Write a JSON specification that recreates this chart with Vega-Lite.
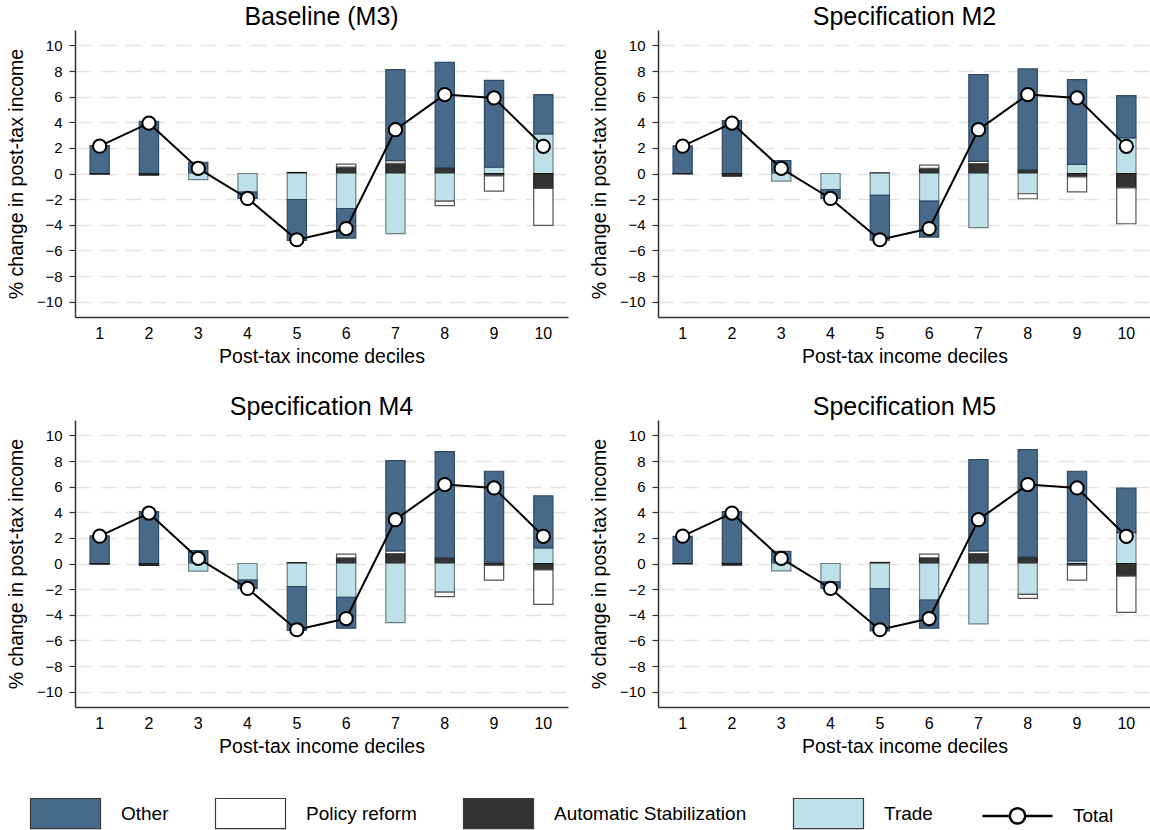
{
  "$schema": "https://vega.github.io/schema/vega-lite/v6.json",
  "background": "white",
  "padding": {"left": 6, "top": 5, "right": 5, "bottom": 5},
  "config": {
    "font": "Liberation Sans",
    "view": {"stroke": null},
    "legend": {"layout": {"bottom": {"anchor": "middle"}}}
  },
  "data": {"values": [
    {"panel":"Baseline (M3)","decile":1,"component":"Other","value":2.18},
    {"panel":"Baseline (M3)","decile":1,"component":"Automatic Stabilization","value":-0.05},
    {"panel":"Baseline (M3)","decile":2,"component":"Other","value":4.08},
    {"panel":"Baseline (M3)","decile":2,"component":"Automatic Stabilization","value":-0.12},
    {"panel":"Baseline (M3)","decile":3,"component":"Other","value":0.88},
    {"panel":"Baseline (M3)","decile":3,"component":"Trade","value":-0.48},
    {"panel":"Baseline (M3)","decile":4,"component":"Trade","value":-1.45},
    {"panel":"Baseline (M3)","decile":4,"component":"Other","value":-0.5},
    {"panel":"Baseline (M3)","decile":5,"component":"Automatic Stabilization","value":0.08},
    {"panel":"Baseline (M3)","decile":5,"component":"Trade","value":-2.03},
    {"panel":"Baseline (M3)","decile":5,"component":"Other","value":-3.2},
    {"panel":"Baseline (M3)","decile":6,"component":"Automatic Stabilization","value":0.5},
    {"panel":"Baseline (M3)","decile":6,"component":"Policy reform","value":0.23},
    {"panel":"Baseline (M3)","decile":6,"component":"Trade","value":-2.73},
    {"panel":"Baseline (M3)","decile":6,"component":"Other","value":-2.31},
    {"panel":"Baseline (M3)","decile":7,"component":"Automatic Stabilization","value":0.8},
    {"panel":"Baseline (M3)","decile":7,"component":"Policy reform","value":0.2},
    {"panel":"Baseline (M3)","decile":7,"component":"Other","value":7.1},
    {"panel":"Baseline (M3)","decile":7,"component":"Trade","value":-4.7},
    {"panel":"Baseline (M3)","decile":8,"component":"Automatic Stabilization","value":0.45},
    {"panel":"Baseline (M3)","decile":8,"component":"Other","value":8.23},
    {"panel":"Baseline (M3)","decile":8,"component":"Trade","value":-2.16},
    {"panel":"Baseline (M3)","decile":8,"component":"Policy reform","value":-0.34},
    {"panel":"Baseline (M3)","decile":9,"component":"Trade","value":0.5},
    {"panel":"Baseline (M3)","decile":9,"component":"Other","value":6.77},
    {"panel":"Baseline (M3)","decile":9,"component":"Automatic Stabilization","value":-0.18},
    {"panel":"Baseline (M3)","decile":9,"component":"Policy reform","value":-1.2},
    {"panel":"Baseline (M3)","decile":10,"component":"Trade","value":3.09},
    {"panel":"Baseline (M3)","decile":10,"component":"Other","value":3.07},
    {"panel":"Baseline (M3)","decile":10,"component":"Automatic Stabilization","value":-1.17},
    {"panel":"Baseline (M3)","decile":10,"component":"Policy reform","value":-2.88},

    {"panel":"Specification M2","decile":1,"component":"Other","value":2.15},
    {"panel":"Specification M2","decile":1,"component":"Automatic Stabilization","value":-0.04},
    {"panel":"Specification M2","decile":2,"component":"Other","value":4.12},
    {"panel":"Specification M2","decile":2,"component":"Automatic Stabilization","value":-0.2},
    {"panel":"Specification M2","decile":3,"component":"Other","value":1.0},
    {"panel":"Specification M2","decile":3,"component":"Trade","value":-0.6},
    {"panel":"Specification M2","decile":4,"component":"Trade","value":-1.25},
    {"panel":"Specification M2","decile":4,"component":"Other","value":-0.7},
    {"panel":"Specification M2","decile":5,"component":"Automatic Stabilization","value":0.05},
    {"panel":"Specification M2","decile":5,"component":"Trade","value":-1.71},
    {"panel":"Specification M2","decile":5,"component":"Other","value":-3.5},
    {"panel":"Specification M2","decile":6,"component":"Automatic Stabilization","value":0.4},
    {"panel":"Specification M2","decile":6,"component":"Policy reform","value":0.25},
    {"panel":"Specification M2","decile":6,"component":"Trade","value":-2.16},
    {"panel":"Specification M2","decile":6,"component":"Other","value":-2.8},
    {"panel":"Specification M2","decile":7,"component":"Automatic Stabilization","value":0.78},
    {"panel":"Specification M2","decile":7,"component":"Policy reform","value":0.16},
    {"panel":"Specification M2","decile":7,"component":"Other","value":6.77},
    {"panel":"Specification M2","decile":7,"component":"Trade","value":-4.23},
    {"panel":"Specification M2","decile":8,"component":"Automatic Stabilization","value":0.3},
    {"panel":"Specification M2","decile":8,"component":"Other","value":7.86},
    {"panel":"Specification M2","decile":8,"component":"Trade","value":-1.58},
    {"panel":"Specification M2","decile":8,"component":"Policy reform","value":-0.39},
    {"panel":"Specification M2","decile":9,"component":"Trade","value":0.72},
    {"panel":"Specification M2","decile":9,"component":"Other","value":6.6},
    {"panel":"Specification M2","decile":9,"component":"Automatic Stabilization","value":-0.26},
    {"panel":"Specification M2","decile":9,"component":"Policy reform","value":-1.17},
    {"panel":"Specification M2","decile":10,"component":"Trade","value":2.78},
    {"panel":"Specification M2","decile":10,"component":"Other","value":3.3},
    {"panel":"Specification M2","decile":10,"component":"Automatic Stabilization","value":-1.12},
    {"panel":"Specification M2","decile":10,"component":"Policy reform","value":-2.8},

    {"panel":"Specification M4","decile":1,"component":"Other","value":2.15},
    {"panel":"Specification M4","decile":1,"component":"Automatic Stabilization","value":-0.05},
    {"panel":"Specification M4","decile":2,"component":"Other","value":4.05},
    {"panel":"Specification M4","decile":2,"component":"Automatic Stabilization","value":-0.15},
    {"panel":"Specification M4","decile":3,"component":"Other","value":1.0},
    {"panel":"Specification M4","decile":3,"component":"Trade","value":-0.6},
    {"panel":"Specification M4","decile":4,"component":"Trade","value":-1.3},
    {"panel":"Specification M4","decile":4,"component":"Other","value":-0.64},
    {"panel":"Specification M4","decile":5,"component":"Automatic Stabilization","value":0.07},
    {"panel":"Specification M4","decile":5,"component":"Trade","value":-1.81},
    {"panel":"Specification M4","decile":5,"component":"Other","value":-3.42},
    {"panel":"Specification M4","decile":6,"component":"Automatic Stabilization","value":0.44},
    {"panel":"Specification M4","decile":6,"component":"Policy reform","value":0.29},
    {"panel":"Specification M4","decile":6,"component":"Trade","value":-2.64},
    {"panel":"Specification M4","decile":6,"component":"Other","value":-2.41},
    {"panel":"Specification M4","decile":7,"component":"Automatic Stabilization","value":0.78},
    {"panel":"Specification M4","decile":7,"component":"Policy reform","value":0.2},
    {"panel":"Specification M4","decile":7,"component":"Other","value":7.05},
    {"panel":"Specification M4","decile":7,"component":"Trade","value":-4.61},
    {"panel":"Specification M4","decile":8,"component":"Automatic Stabilization","value":0.47},
    {"panel":"Specification M4","decile":8,"component":"Other","value":8.26},
    {"panel":"Specification M4","decile":8,"component":"Trade","value":-2.23},
    {"panel":"Specification M4","decile":8,"component":"Policy reform","value":-0.36},
    {"panel":"Specification M4","decile":9,"component":"Trade","value":0.1},
    {"panel":"Specification M4","decile":9,"component":"Other","value":7.1},
    {"panel":"Specification M4","decile":9,"component":"Automatic Stabilization","value":-0.15},
    {"panel":"Specification M4","decile":9,"component":"Policy reform","value":-1.15},
    {"panel":"Specification M4","decile":10,"component":"Trade","value":1.22},
    {"panel":"Specification M4","decile":10,"component":"Other","value":4.06},
    {"panel":"Specification M4","decile":10,"component":"Automatic Stabilization","value":-0.5},
    {"panel":"Specification M4","decile":10,"component":"Policy reform","value":-2.69},

    {"panel":"Specification M5","decile":1,"component":"Other","value":2.12},
    {"panel":"Specification M5","decile":1,"component":"Automatic Stabilization","value":-0.04},
    {"panel":"Specification M5","decile":2,"component":"Other","value":4.05},
    {"panel":"Specification M5","decile":2,"component":"Automatic Stabilization","value":-0.12},
    {"panel":"Specification M5","decile":3,"component":"Other","value":0.95},
    {"panel":"Specification M5","decile":3,"component":"Trade","value":-0.57},
    {"panel":"Specification M5","decile":4,"component":"Trade","value":-1.43},
    {"panel":"Specification M5","decile":4,"component":"Other","value":-0.5},
    {"panel":"Specification M5","decile":5,"component":"Automatic Stabilization","value":0.08},
    {"panel":"Specification M5","decile":5,"component":"Trade","value":-1.95},
    {"panel":"Specification M5","decile":5,"component":"Other","value":-3.31},
    {"panel":"Specification M5","decile":6,"component":"Automatic Stabilization","value":0.45},
    {"panel":"Specification M5","decile":6,"component":"Policy reform","value":0.28},
    {"panel":"Specification M5","decile":6,"component":"Trade","value":-2.85},
    {"panel":"Specification M5","decile":6,"component":"Other","value":-2.2},
    {"panel":"Specification M5","decile":7,"component":"Automatic Stabilization","value":0.78},
    {"panel":"Specification M5","decile":7,"component":"Policy reform","value":0.2},
    {"panel":"Specification M5","decile":7,"component":"Other","value":7.13},
    {"panel":"Specification M5","decile":7,"component":"Trade","value":-4.71},
    {"panel":"Specification M5","decile":8,"component":"Automatic Stabilization","value":0.52},
    {"panel":"Specification M5","decile":8,"component":"Other","value":8.37},
    {"panel":"Specification M5","decile":8,"component":"Trade","value":-2.41},
    {"panel":"Specification M5","decile":8,"component":"Policy reform","value":-0.31},
    {"panel":"Specification M5","decile":9,"component":"Trade","value":0.2},
    {"panel":"Specification M5","decile":9,"component":"Other","value":7.0},
    {"panel":"Specification M5","decile":9,"component":"Automatic Stabilization","value":-0.13},
    {"panel":"Specification M5","decile":9,"component":"Policy reform","value":-1.17},
    {"panel":"Specification M5","decile":10,"component":"Trade","value":2.41},
    {"panel":"Specification M5","decile":10,"component":"Other","value":3.47},
    {"panel":"Specification M5","decile":10,"component":"Automatic Stabilization","value":-0.98},
    {"panel":"Specification M5","decile":10,"component":"Policy reform","value":-2.83},

    {"panel":"Baseline (M3)","decile":1,"component":"Total","value":2.13},
    {"panel":"Baseline (M3)","decile":2,"component":"Total","value":3.93},
    {"panel":"Baseline (M3)","decile":3,"component":"Total","value":0.4},
    {"panel":"Baseline (M3)","decile":4,"component":"Total","value":-1.95},
    {"panel":"Baseline (M3)","decile":5,"component":"Total","value":-5.17},
    {"panel":"Baseline (M3)","decile":6,"component":"Total","value":-4.3},
    {"panel":"Baseline (M3)","decile":7,"component":"Total","value":3.42},
    {"panel":"Baseline (M3)","decile":8,"component":"Total","value":6.16},
    {"panel":"Baseline (M3)","decile":9,"component":"Total","value":5.9},
    {"panel":"Baseline (M3)","decile":10,"component":"Total","value":2.12},
    {"panel":"Specification M2","decile":1,"component":"Total","value":2.13},
    {"panel":"Specification M2","decile":2,"component":"Total","value":3.93},
    {"panel":"Specification M2","decile":3,"component":"Total","value":0.4},
    {"panel":"Specification M2","decile":4,"component":"Total","value":-1.95},
    {"panel":"Specification M2","decile":5,"component":"Total","value":-5.17},
    {"panel":"Specification M2","decile":6,"component":"Total","value":-4.3},
    {"panel":"Specification M2","decile":7,"component":"Total","value":3.42},
    {"panel":"Specification M2","decile":8,"component":"Total","value":6.16},
    {"panel":"Specification M2","decile":9,"component":"Total","value":5.9},
    {"panel":"Specification M2","decile":10,"component":"Total","value":2.12},
    {"panel":"Specification M4","decile":1,"component":"Total","value":2.13},
    {"panel":"Specification M4","decile":2,"component":"Total","value":3.93},
    {"panel":"Specification M4","decile":3,"component":"Total","value":0.4},
    {"panel":"Specification M4","decile":4,"component":"Total","value":-1.95},
    {"panel":"Specification M4","decile":5,"component":"Total","value":-5.17},
    {"panel":"Specification M4","decile":6,"component":"Total","value":-4.3},
    {"panel":"Specification M4","decile":7,"component":"Total","value":3.42},
    {"panel":"Specification M4","decile":8,"component":"Total","value":6.16},
    {"panel":"Specification M4","decile":9,"component":"Total","value":5.9},
    {"panel":"Specification M4","decile":10,"component":"Total","value":2.12},
    {"panel":"Specification M5","decile":1,"component":"Total","value":2.13},
    {"panel":"Specification M5","decile":2,"component":"Total","value":3.93},
    {"panel":"Specification M5","decile":3,"component":"Total","value":0.4},
    {"panel":"Specification M5","decile":4,"component":"Total","value":-1.95},
    {"panel":"Specification M5","decile":5,"component":"Total","value":-5.17},
    {"panel":"Specification M5","decile":6,"component":"Total","value":-4.3},
    {"panel":"Specification M5","decile":7,"component":"Total","value":3.42},
    {"panel":"Specification M5","decile":8,"component":"Total","value":6.16},
    {"panel":"Specification M5","decile":9,"component":"Total","value":5.9},
    {"panel":"Specification M5","decile":10,"component":"Total","value":2.12}
  ]},
  "facet": {
    "field": "panel", "type": "nominal",
    "sort": ["Baseline (M3)", "Specification M2", "Specification M4", "Specification M5"],
    "header": {"title": null, "labelFontSize": 25, "labelColor": "black", "labelPadding": 0, "labelFont": "Liberation Sans"}
  },
  "columns": 2,
  "spacing": {"row": 29, "column": 21},
  "resolve": {"axis": {"x": "independent", "y": "independent"}},
  "spec": {
    "width": 493,
    "height": 287,
    "encoding": {
      "x": {
        "field": "decile", "type": "ordinal",
        "scale": {"paddingInner": 0.61, "paddingOuter": 0.305},
        "axis": {"title": "Post-tax income deciles", "titleFontSize": 19.5, "titleFontWeight": "normal", "titleColor": "black", "titlePadding": 6,
                 "labelAngle": 0, "labelFontSize": 16, "labelColor": "black", "labelPadding": 8,
                 "domainColor": "#333333", "domainWidth": 1.5, "ticks": false, "grid": false}
      },
      "y": {
        "field": "value", "type": "quantitative",
        "scale": {"domain": [-11.2, 11.2], "nice": false, "zero": false},
        "axis": {"title": "% change in post-tax income", "titleFontSize": 19.5, "titleFontWeight": "normal", "titleColor": "black", "titlePadding": 10,
                 "values": [-10, -8, -6, -4, -2, 0, 2, 4, 6, 8, 10], "labelFontSize": 15, "labelColor": "black", "labelPadding": 7,
                 "domainColor": "#333333", "domainWidth": 1.5, "tickColor": "#333333", "tickSize": 6, "tickWidth": 1.2,
                 "grid": true, "gridColor": "#e4e4e4", "gridDash": [16, 9], "gridWidth": 1.5}
      }
    },
    "layer": [
      {
        "transform": [
          {"filter": "datum.component !== 'Total'"},
          {"calculate": "indexof(['Trade', 'Automatic Stabilization', 'Policy reform', 'Other'], datum.component)", "as": "stackorder"}
        ],
        "mark": {"type": "bar", "strokeWidth": 1.2},
        "encoding": {
          "y": {"field": "value", "type": "quantitative", "stack": "zero"},
          "order": {"field": "stackorder", "type": "quantitative", "sort": "ascending"},
          "color": {
            "field": "component", "type": "nominal",
            "scale": {"domain": ["Other", "Policy reform", "Automatic Stabilization", "Trade", "Total"],
                      "range": ["#476a8a", "#ffffff", "#333333", "#bde0e9", "#ffffff"]},
            "legend": {
              "orient": "bottom", "direction": "horizontal", "title": null,
              "symbolSize": 4900, "symbolOffset": 12, "labelFontSize": 19, "labelColor": "black", "labelOffset": 46, "labelLimit": 400,
              "columnPadding": 44, "offset": 48,
              "encode": {"symbols": {"update": {
                "shape": {"signal": "datum.value === 'Total' ? 'M-1,0L-0.22,0M0.22,0L1,0M-0.22,0A0.22,0.22,0,1,1,0.22,0A0.22,0.22,0,1,1,-0.22,0Z' : 'M-1,-0.43L1,-0.43L1,0.43L-1,0.43Z'"},
                "stroke": {"signal": "datum.value === 'Total' ? '#000000' : '#3a3a3a'"},
                "strokeWidth": {"signal": "datum.value === 'Total' ? 2.5 : 1.2"},
                "opacity": {"value": 1}
              }}}
            }
          },
          "stroke": {
            "field": "component", "type": "nominal",
            "scale": {"domain": ["Other", "Policy reform", "Automatic Stabilization", "Trade"],
                      "range": ["#2f4a63", "#555555", "#1a1a1a", "#6e7f84"]},
            "legend": null
          }
        }
      },
      {
        "transform": [{"filter": "datum.component === 'Total'"}],
        "mark": {"type": "line", "strokeWidth": 2, "color": "#000000"},
        "encoding": {}
      },
      {
        "transform": [{"filter": "datum.component === 'Total'"}],
        "mark": {"type": "point", "filled": true, "fill": "#ffffff", "stroke": "#000000", "strokeWidth": 2, "size": 175, "opacity": 1},
        "encoding": {}
      }
    ]
  }
}
